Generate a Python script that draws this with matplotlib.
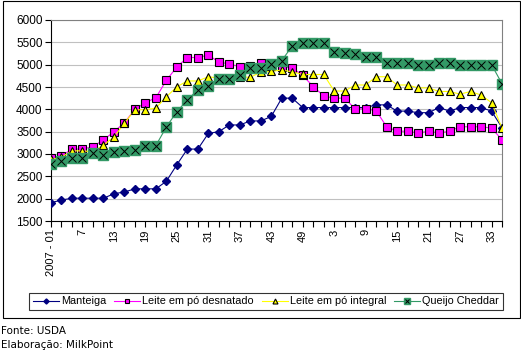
import matplotlib
matplotlib.use("Agg")
import matplotlib.pyplot as plt
from matplotlib.patches import Rectangle
from matplotlib.legend_handler import HandlerTuple


# ---------- data (weekly prices, every 2 weeks) ---------------------------

weeks_2007 = list(range(1, 52, 2))
weeks_2008 = list(range(1, 36, 2))
week_labels = ["2007 - 01" if i == 0 else str(w)
               for i, w in enumerate(weeks_2007 + weeks_2008)]

manteiga = [1910, 1970, 2010, 2010, 2010, 2010, 2110, 2150, 2220, 2220,
            2220, 2390, 2760, 3110, 3110, 3460, 3500, 3650, 3650, 3740,
            3740, 3840, 4250, 4250, 4040, 4040, 4040, 4040, 4040, 4040,
            4040, 4100, 4100, 3960, 3960, 3925, 3925, 4040, 3960, 4040,
            4040, 4040, 3960, 3590]

desnatado = [2900, 2955, 3110, 3110, 3165, 3315, 3500, 3700, 4000, 4150,
             4260, 4650, 4950, 5160, 5160, 5215, 5060, 5015, 4955, 4980,
             5030, 4980, 4950, 4930, 4760, 4510, 4300, 4250, 4250, 4010,
             4010, 3970, 3610, 3510, 3510, 3470, 3510, 3470, 3510, 3610,
             3610, 3610, 3580, 3320]

integral = [2880, 2930, 3070, 3070, 3050, 3200, 3380, 3690, 3990, 3990,
            4030, 4280, 4505, 4635, 4635, 4730, 4700, 4700, 4720, 4720,
            4830, 4850, 4880, 4840, 4780, 4780, 4780, 4410, 4410, 4545,
            4545, 4730, 4730, 4545, 4545, 4480, 4480, 4400, 4400, 4340,
            4400, 4320, 4150, 3580]

cheddar = [2785, 2845, 2910, 2910, 3030, 2980, 3035, 3075, 3080, 3190,
           3190, 3605, 3950, 4210, 4440, 4530, 4685, 4690, 4770, 4930,
           4930, 5010, 5090, 5420, 5495, 5495, 5495, 5280, 5270, 5230,
           5175, 5175, 5045, 5045, 5045, 5000, 5000, 5045, 5045, 5000,
           5000, 5000, 5000, 4575]

yticks = list(range(1500, 6001, 500))


# ---------- plot ----------------------------------------------------------

plt.rcParams["font.family"] = ["Liberation Sans", "DejaVu Sans"]

fig = plt.figure(figsize=(5.21, 3.51), dpi=100)
ax = fig.add_axes([51 / 521, 1 - 221 / 351, 451 / 521, 201 / 351])

x = list(range(len(week_labels)))

l1, = ax.plot(x, manteiga, color="#000080", linewidth=0.8, marker="D",
              markersize=4.3, markerfacecolor="#000080",
              markeredgecolor="#000080", zorder=3)
l2, = ax.plot(x, desnatado, color="#FF00FF", linewidth=0.8, marker="s",
              markersize=5.3, markerfacecolor="#FF00FF",
              markeredgecolor="black", markeredgewidth=0.8, zorder=4)
l3, = ax.plot(x, integral, color="#FFFF00", linewidth=0.8, marker="^",
              markersize=6, markerfacecolor="#FFFF00",
              markeredgecolor="black", markeredgewidth=0.8, zorder=5)
l4, = ax.plot(x, cheddar, color="#339966", linewidth=0.8, marker="s",
              markersize=7.5, markerfacecolor="#339966",
              markeredgecolor="#339966", zorder=6)
l4x, = ax.plot(x, cheddar, linestyle="none", marker="x", markersize=5.5,
               markeredgecolor="black", markeredgewidth=0.7, zorder=7)

ax.set_xlim(0, len(x) - 1)
ax.set_ylim(1500, 6000)
ax.set_yticks(yticks)
ax.set_yticklabels([str(v) for v in yticks], fontsize=8.5)
ax.set_xticks(x)
ax.set_xticklabels([lab if i % 3 == 0 else "" for i, lab in enumerate(week_labels)],
                   rotation=90, fontsize=8)
ax.tick_params(axis="both", direction="out", length=4, width=0.8, pad=2)
ax.grid(axis="y", color="#c0c0c0", linewidth=0.8)
ax.set_axisbelow(True)
for s in ["top", "right"]:
    ax.spines[s].set_color("#808080")
    ax.spines[s].set_linewidth(0.8)
for s in ["left", "bottom"]:
    ax.spines[s].set_color("black")
    ax.spines[s].set_linewidth(0.8)

leg = fig.legend([l1, l2, l3, (l4, l4x)],
                 ["Manteiga", "Leite em pó desnatado", "Leite em pó integral",
                  "Queijo Cheddar"],
                 handler_map={tuple: HandlerTuple(ndivide=1, pad=0)},
                 loc="center", bbox_to_anchor=(266 / 521, 1 - 301.5 / 351),
                 ncol=4, fontsize=7.8, frameon=True, fancybox=False,
                 handlelength=2.4, handletextpad=0.2, columnspacing=0.7,
                 borderpad=0.35, borderaxespad=0, markerscale=0.6)
leg.get_frame().set_edgecolor("black")
leg.get_frame().set_linewidth(0.8)

# outer chart frame
fig.patches.append(Rectangle((3 / 521, 1 - 318 / 351), 517 / 521, 317 / 351,
                             transform=fig.transFigure, fill=False,
                             edgecolor="black", linewidth=0.8))

fig.text(1 / 521, 1 - 331 / 351, "Fonte: USDA", fontsize=7.5,
         family="DejaVu Sans", va="center", ha="left")
fig.text(1 / 521, 1 - 345 / 351, "Elaboração: MilkPoint", fontsize=7.5,
         family="DejaVu Sans", va="center", ha="left")

fig.savefig("out.png", dpi=100)
